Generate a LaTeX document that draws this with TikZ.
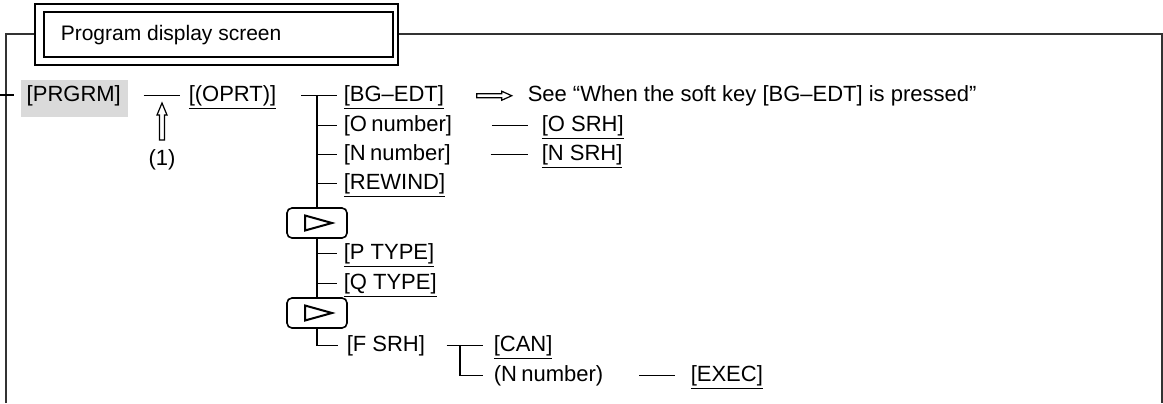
\documentclass[tikz,border=0pt]{standalone}
\usepackage{fontspec}
\setmainfont{Liberation Sans}
\definecolor{keygray}{RGB}{218,218,218}
\begin{document}
\begin{tikzpicture}[x=0.5pt,y=-0.5pt,
  font=\fontsize{11}{13}\selectfont,
  line width=0.75pt,
  lbl/.style={anchor=base west, inner sep=0pt},
  frameline/.style={line width=0.8pt, black!80},
  hollow/.style={line width=0.6pt, fill=white},
  kbox/.style={draw, rounded corners=2.5pt, fill=white, minimum width=30pt,
    minimum height=15pt, inner sep=0pt, line width=0.8pt},
  tri/.style={line width=1pt, line join=miter}]
\useasboundingbox (0,0) rectangle (1163,403);
% outer frame
\draw[frameline] (6,403) -- (6,34) -- (1162,34) -- (1162,403);
\draw (0,95) -- (14,95);
% title box
\node[draw, line width=1.1pt, fill=white, minimum width=181.5pt, minimum height=30.5pt, inner sep=0pt] (outer) at (216.5,34.5) {};
\node[draw, line width=0.6pt, minimum width=174.5pt, minimum height=22.5pt, inner sep=0pt] (inner) at (218.5,34.5) {};
\node[lbl, font=\fontsize{10.5}{12}\selectfont] (title) at (60,40) {Program display screen};
% first row
\fill[keygray] (21,80) rectangle (128,117);
\node[lbl] (prgrm) at (26,101) {[PRGRM]};
\node[lbl] (oprt) at (188,101) {\underline{[(OPRT)]}};
\draw[shorten <=11pt, shorten >=4pt] (prgrm.mid east) -- (oprt.mid west);
% (1) arrow
\coordinate (ua) at (162,140);
\draw[hollow] (ua) ++(-2.5,0) -- ++(0,-25) -- ++(-2.5,0) -- ++(5,-12) -- ++(5,12) -- ++(-2.5,0) -- ++(0,25) -- cycle;
\node[inner sep=0pt] (one) at (162,160) {(1)};
% tree labels
\node[lbl] (bg)    at (343,101) {\underline{[BG–EDT]}};
\node[lbl] (onum)  at (343,131) {[O\kern2.2pt number]};
\node[lbl] (nnum)  at (343,160) {[N\kern2.2pt number]};
\node[lbl] (rew)   at (343,189) {\underline{[REWIND]}};
\node[kbox] (box1) at (317,223) {};
\node[lbl] (ptype) at (343,259) {\underline{[P TYPE]}};
\node[lbl] (qtype) at (343,289) {\underline{[Q TYPE]}};
\node[kbox] (box2) at (317,313) {};
\node[lbl] (fsrh)  at (346,351) {[F SRH]};
% triangles
\draw[tri] (box1.center) ++(-12,-7.5) -- ++(27,7.5) -- ++(-27,7.5) -- cycle;
\draw[tri] (box2.center) ++(-12,-7.5) -- ++(27,7.5) -- ++(-27,7.5) -- cycle;
% tree connectors
\coordinate (t1) at (317,95);
\draw[shorten <=12pt] (oprt.mid east) -- ([xshift=-3pt]bg.mid west);
\draw (t1) -- (box1.north);
\foreach \n in {onum,nnum,rew}
  \draw (t1 |- \n.mid west) -- ([xshift=-3pt]\n.mid west);
\draw (box1.south) -- (box2.north);
\foreach \n in {ptype,qtype}
  \draw (box1.south |- \n.mid west) -- ([xshift=-3pt]\n.mid west);
\draw (box2.south) |- ([xshift=-4pt]fsrh.mid west);
% BG-EDT reference
\node[lbl] (see) at (527,101) {See “When the soft key [BG–EDT] is pressed”};
\draw[hollow] ([xshift=16pt]bg.mid east) ++(0,-2) -- ++(25,0) -- ++(0,-2.5) -- ++(10,4.5) -- ++(-10,4.5) -- ++(0,-2.5) -- ++(-25,0) -- cycle;
% second column
\node[lbl] (osrh) at (541,131) {\underline{[O SRH]}};
\node[lbl] (nsrh) at (541,160) {\underline{[N SRH]}};
\draw[shorten <=19.5pt, shorten >=6.5pt] (onum.mid east) -- (osrh.mid west);
\draw[shorten <=19.5pt, shorten >=6.5pt] (nnum.mid east) -- (nsrh.mid west);
% F SRH branch
\node[lbl] (can)   at (493,351) {\underline{[CAN]}};
\node[lbl] (nnum2) at (493,381) {(N\kern2.2pt number)};
\node[lbl] (exec)  at (690,381) {\underline{[EXEC]}};
\coordinate (fj) at (460,345);
\draw[shorten <=10.5pt, shorten >=5pt] (fsrh.mid east) -- (can.mid west);
\draw (fj) |- ([xshift=-5pt]nnum2.mid west);
\draw[shorten <=17.5pt, shorten >=7.5pt] (nnum2.mid east) -- (exec.mid west);
\end{tikzpicture}
\end{document}
